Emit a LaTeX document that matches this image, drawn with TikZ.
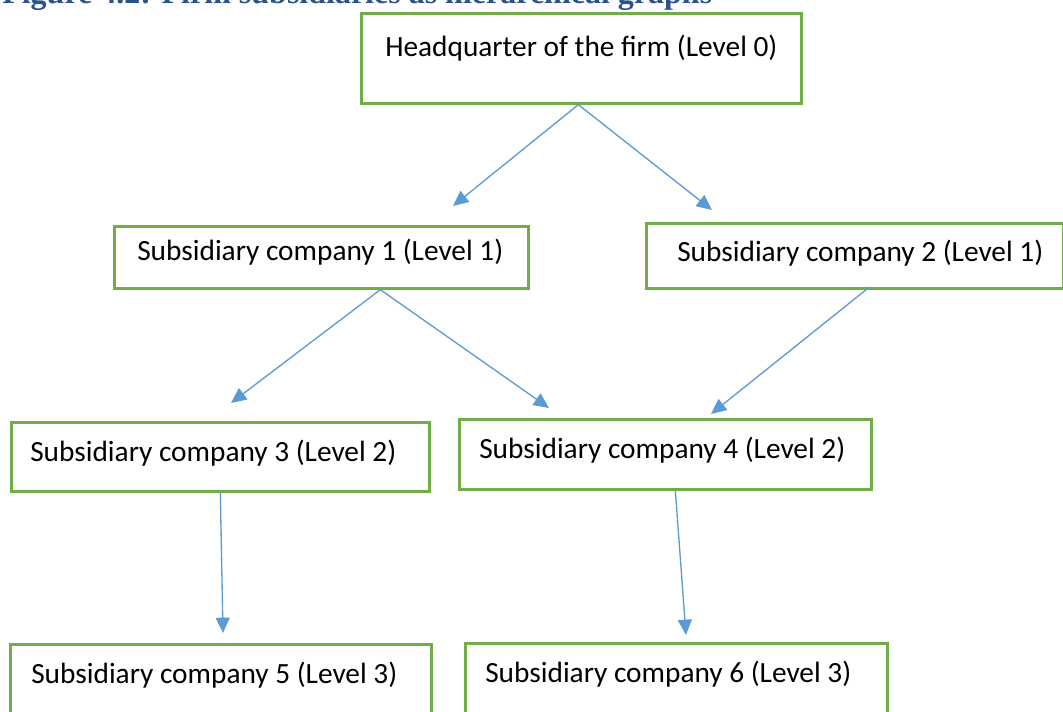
\documentclass[tikz,border=0pt]{standalone}
\usepackage{fontspec}
\setmainfont{Carlito}
\newfontfamily\captionfont{Liberation Serif}
\usetikzlibrary{arrows.meta}

\definecolor{boxgreen}{RGB}{112,173,71}
\definecolor{linkblue}{RGB}{91,155,213}
\definecolor{titleblue}{RGB}{44,82,138}

\begin{document}
\begin{tikzpicture}[x=0.75pt,y=0.75pt,yscale=-1,xscale=1,
  firmbox/.style={draw=boxgreen,line width=2pt,anchor=north west,inner sep=0pt},
  firmtext/.style={anchor=base west,inner sep=0pt,font=\fontsize{22}{26}\selectfont},
  link/.style={draw=linkblue,line width=1pt,-{Triangle[length=11.5pt,width=10.5pt]}}]
\useasboundingbox (0,0) rectangle (1063,712);

% Caption (cut at the top)
\node (caption) [anchor=base west,inner sep=0pt,text=titleblue,font=\captionfont\bfseries\fontsize{24}{28}\selectfont] at (2,4) {Figure 4.2: Firm subsidiaries as hierarchical graphs};

% Level 0
\node (hq) [firmbox,minimum width=330pt,minimum height=67.5pt] at (360,12) {};
\node (hqtext) [firmtext] at (385,57) {Headquarter of the firm (Level 0)};

% Level 1
\node (sub1) [firmbox,minimum width=310.5pt,minimum height=46.5pt] at (113,225) {};
\node (sub1text) [firmtext] at (137,261) {Subsidiary company 1 (Level 1)};
\node (sub2) [firmbox,minimum width=312.75pt,minimum height=48.75pt] at (645,222) {};
\node (sub2text) [firmtext] at (677,262) {Subsidiary company 2 (Level 1)};

% Level 2
\node (sub3) [firmbox,minimum width=313.5pt,minimum height=51.75pt] at (10,421) {};
\node (sub3text) [firmtext] at (30,461) {Subsidiary company 3 (Level 2)};
\node (sub4) [firmbox,minimum width=309pt,minimum height=52.5pt] at (458,418) {};
\node (sub4text) [firmtext] at (479,459) {Subsidiary company 4 (Level 2)};

% Level 3
\node (sub5) [firmbox,minimum width=315.75pt,minimum height=67.5pt] at (9,643) {};
\node (sub5text) [firmtext] at (31,683) {Subsidiary company 5 (Level 3)};
\node (sub6) [firmbox,minimum width=316.5pt,minimum height=67.5pt] at (464,642) {};
\node (sub6text) [firmtext] at (485,682) {Subsidiary company 6 (Level 3)};

% arrow ends
\coordinate (tip1) at (453,206);
\coordinate (tip2) at (712,210);
\coordinate (tip3) at (231,403);
\coordinate (tip4) at (549,408);
\coordinate (tip5) at (711,414);
\coordinate (tip6) at (223,633);
\coordinate (tip7) at (686,635);

\draw [link] ([xshift=-2.25pt]hq.south) -- (tip1);
\draw [link] ([xshift=-2.25pt]hq.south) -- (tip2);
\draw [link] ([xshift=44.25pt]sub1.south) -- (tip3);
\draw [link] ([xshift=44.25pt]sub1.south) -- (tip4);
\draw [link] ([xshift=11pt,yshift=-2pt]sub2.south) -- (tip5);
\draw [link] (sub3.south) -- (tip6);
\draw [link] ([xshift=7.5pt]sub4.south) -- (tip7);

\end{tikzpicture}
\end{document}
